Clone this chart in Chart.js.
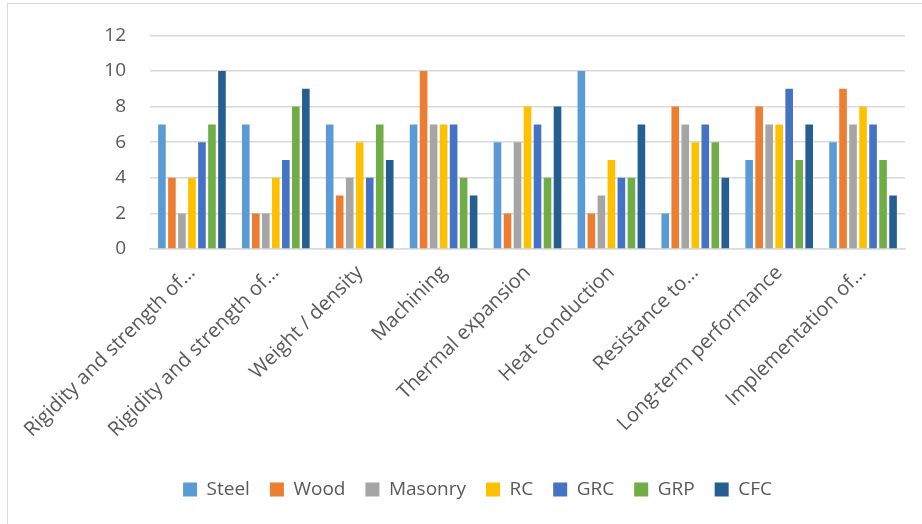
<!DOCTYPE html>
<html>
<head>
<meta charset="utf-8">
<script src="https://cdn.jsdelivr.net/npm/chart.js@4/dist/chart.umd.min.js"></script>
<style>
  body { margin: 0; background: #fff; overflow: hidden; }
  #frame { position: absolute; left: 7px; top: 3px; width: 1000px; height: 600px; border: 1.5px solid #d9d9d9; }
  #wrap { position: absolute; left: 0; top: 0; width: 922px; height: 524px; }
</style>
</head>
<body>
<div id="frame"></div>
<div id="wrap"><canvas id="myChart" width="922" height="524"></canvas></div>
<script>
// categories + series
const categories = ['Rigidity and strength of…', 'Rigidity and strength of…', 'Weight / density', 'Machining',
  'Thermal expansion', 'Heat conduction', 'Resistance to…', 'Long-term performance', 'Implementation of…'];
const steel   = [7, 7, 7, 7, 6, 10, 2, 5, 6];
const wood    = [4, 2, 3, 10, 2, 2, 8, 8, 9];
const masonry = [2, 2, 4, 7, 6, 3, 7, 7, 7];
const rc      = [4, 4, 6, 7, 8, 5, 6, 7, 8];
const grc     = [6, 5, 4, 7, 7, 4, 7, 9, 7];
const grp     = [7, 8, 7, 4, 4, 4, 6, 5, 5];
const cfc     = [10, 9, 5, 3, 8, 7, 4, 7, 3];
const yTicks  = [0, 2, 4, 6, 8, 10, 12];

const txt = '#595959';
const fontFam = '"Open Sans", "Liberation Sans", sans-serif';

const mk = (label, data, color) => ({
  label: label, data: data, backgroundColor: color,
  categoryPercentage: 0.835, barPercentage: 0.76
});

var ctx = document.getElementById('myChart').getContext('2d');
var chart = new Chart(ctx, {
  type: 'bar',
  data: {
    labels: categories,
    datasets: [
      mk('Steel', steel, '#5B9BD5'),
      mk('Wood', wood, '#ED7D31'),
      mk('Masonry', masonry, '#A5A5A5'),
      mk('RC', rc, '#FFC000'),
      mk('GRC', grc, '#4472C4'),
      mk('GRP', grp, '#70AD47'),
      mk('CFC', cfc, '#255E91')
    ]
  },
  options: {
    responsive: false,
    animation: false,
    layout: { padding: { left: 50, right: 17, top: 33, bottom: 15 } },
    plugins: {
      tooltip: { enabled: false },
      legend: {
        position: 'bottom',
        labels: {
          boxWidth: 14, boxHeight: 14, padding: 20, color: txt,
          font: { family: fontFam, size: 19 }
        }
      }
    },
    scales: {
      x: {
        grid: { display: false },
        border: { display: true, color: '#d9d9d9', width: 1.5 },
        ticks: {
          color: txt, font: { family: fontFam, size: 20 },
          maxRotation: 45, minRotation: 45, autoSkip: false, padding: 4
        },
        afterFit: (s) => { s.height = 211; }
      },
      y: {
        min: 0, max: 12,
        afterBuildTicks: (s) => { s.ticks = yTicks.map(v => ({ value: v })); },
        grid: { color: '#d9d9d9', lineWidth: 1.5, drawTicks: false },
        border: { display: false },
        ticks: { color: txt, font: { family: fontFam, size: 19 }, padding: 24 },
        afterFit: (s) => { s.width = 100; }
      }
    }
  }
});
</script>
</body>
</html>
